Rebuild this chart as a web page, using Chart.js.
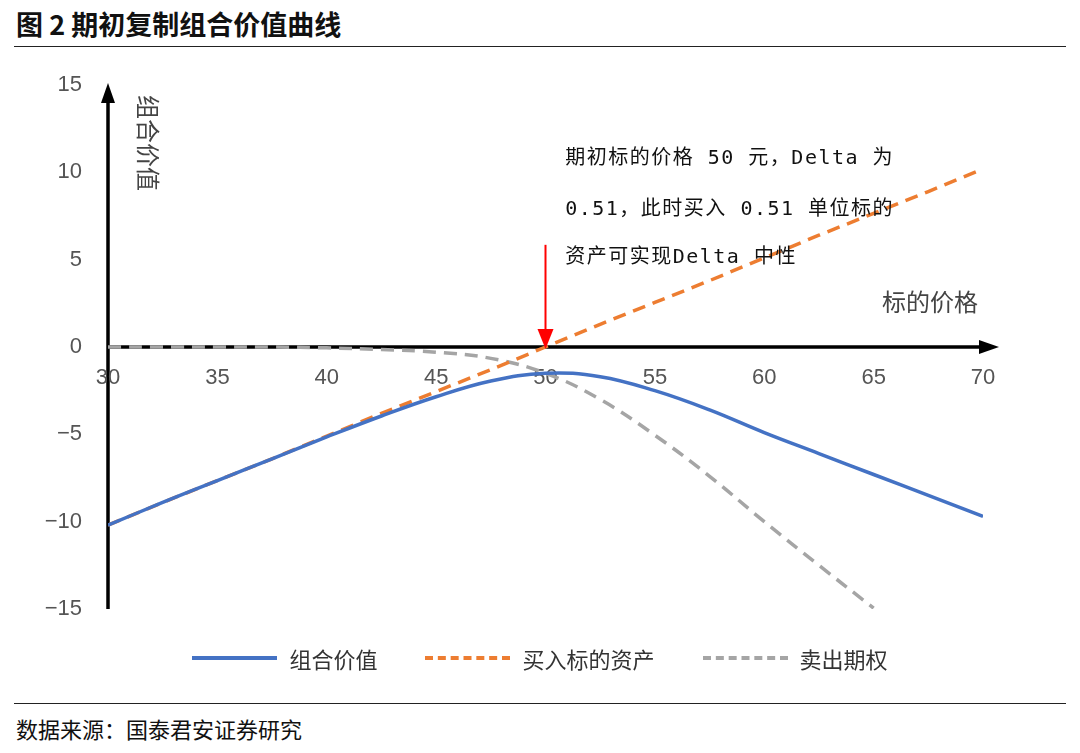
<!DOCTYPE html>
<html>
<head>
<meta charset="utf-8">
<script src="https://cdn.jsdelivr.net/npm/chart.js@4/dist/chart.umd.min.js"></script>
<style>
  body { margin: 0; width: 1080px; height: 753px; background: #fff; font-family: "Noto Sans CJK SC", sans-serif; position: relative; overflow: hidden; }
  #title { position: absolute; left: 16px; top: 4px; font-size: 27px; font-weight: bold; color: #111; }
  #topline { position: absolute; left: 14px; right: 14px; top: 46px; border-top: 1.5px solid #222; }
  #wrap { position: absolute; left: 0; top: 50px; width: 1080px; height: 600px; }
  #legend { position: absolute; top: 642px; left: 0; width: 1080px; display: flex; justify-content: center; gap: 48px; font-size: 22px; color: #333; }
  #legend span { display: flex; align-items: center; gap: 12px; }
  #legend i { display: inline-block; width: 85px; border-top: 4px solid; }
  #botline { position: absolute; left: 14px; right: 14px; top: 703px; border-top: 1.5px solid #222; }
  #source { position: absolute; left: 16px; top: 712px; font-size: 22px; color: #111; }
</style>
</head>
<body>
<div id="title">图 2 期初复制组合价值曲线</div>
<div id="topline"></div>
<div id="wrap"><canvas id="chart"></canvas></div>
<div id="legend">
  <span><i style="border-color:#4472c4"></i>组合价值</span>
  <span><i style="border-color:#ed7d31;border-top-style:dashed"></i>买入标的资产</span>
  <span><i style="border-color:#a5a5a5;border-top-style:dashed"></i>卖出期权</span>
</div>
<div id="botline"></div>
<div id="source">数据来源：国泰君安证券研究</div>
<script>
const prices = [30, 32.5, 35, 37.5, 40, 42.5, 45, 47.5, 50, 52.5, 55, 57.5, 60, 62.5, 65, 67.5, 70];
const portfolio = [-10.2, -8.9, -7.65, -6.4, -5.15, -3.95, -2.85, -1.95, -1.5, -1.7, -2.5, -3.6, -4.9, -6.1, -7.3, -8.5, -9.7];
const underlying = [-10.2, -8.9, -7.65, -6.4, -5.1, -3.8, -2.55, -1.3, 0, 1.3, 2.55, 3.8, 5.1, 6.4, 7.65, 8.9, 10.2];
const shortCall = [0, 0, 0, 0, -0.05, -0.15, -0.3, -0.65, -1.5, -3.0, -5.05, -7.4, -10.0, -12.5, -14.95, null, null];
const xTicks = [30, 35, 40, 45, 50, 55, 60, 65, 70];
const noteLines = ['期初标的价格 50 元，Delta 为', '0.51，此时买入 0.51 单位标的', '资产可实现Delta 中性'];

function pts(ys) { return prices.map((x, i) => ({ x: x, y: ys[i] })); }

const axesPlugin = {
  id: 'axes',
  beforeDatasetsDraw(chart) {
    const { ctx, scales: { x, y } } = chart;
    const x0 = x.getPixelForValue(30), y0 = y.getPixelForValue(0);
    ctx.save();
    ctx.strokeStyle = '#000'; ctx.fillStyle = '#000'; ctx.lineWidth = 3.5;
    ctx.beginPath(); ctx.moveTo(x0, y.getPixelForValue(-15)); ctx.lineTo(x0, y.getPixelForValue(15) + 14); ctx.stroke();
    ctx.beginPath(); ctx.moveTo(x0, y.getPixelForValue(15) - 2); ctx.lineTo(x0 - 7, y.getPixelForValue(15) + 18); ctx.lineTo(x0 + 7, y.getPixelForValue(15) + 18); ctx.fill();
    const xe = x.getPixelForValue(70);
    ctx.beginPath(); ctx.moveTo(x0, y0); ctx.lineTo(xe - 4, y0); ctx.stroke();
    ctx.beginPath(); ctx.moveTo(xe + 16, y0); ctx.lineTo(xe - 4, y0 - 7); ctx.lineTo(xe - 4, y0 + 7); ctx.fill();
    ctx.font = '22px "Liberation Sans", Arial, sans-serif'; ctx.fillStyle = '#555';
    ctx.textAlign = 'center'; ctx.textBaseline = 'top';
    xTicks.forEach(v => ctx.fillText(String(v), x.getPixelForValue(v), y0 + 20));
    ctx.restore();
  },
  afterDatasetsDraw(chart) {
    const { ctx, scales: { x, y } } = chart;
    ctx.save();
    ctx.font = '24px "Noto Sans CJK SC"'; ctx.fillStyle = '#444';
    ctx.textBaseline = 'middle';
    ctx.fillText('标的价格', 882, y.getPixelForValue(2.6));
    ctx.save();
    ctx.translate(148, 45); ctx.rotate(Math.PI / 2);
    ctx.fillText('组合价值', 0, 0);
    ctx.restore();
    ctx.font = '20px "DejaVu Sans Mono", "Noto Sans CJK SC"'; ctx.fillStyle = '#111';
    ctx.textAlign = 'left';
    if ('letterSpacing' in ctx) ctx.letterSpacing = '1.5px';
    const ly = [10.8, 7.85, 5.1];
    noteLines.forEach((t, i) => ctx.fillText(t, x.getPixelForValue(50.9), y.getPixelForValue(ly[i])));
    if ('letterSpacing' in ctx) ctx.letterSpacing = '0px';
    const ax = x.getPixelForValue(50), top = y.getPixelForValue(5.85), bot = y.getPixelForValue(0);
    ctx.strokeStyle = '#ff0000'; ctx.fillStyle = '#ff0000'; ctx.lineWidth = 2;
    ctx.beginPath(); ctx.moveTo(ax, top); ctx.lineTo(ax, bot - 14); ctx.stroke();
    ctx.beginPath(); ctx.moveTo(ax, bot + 2); ctx.lineTo(ax - 8, bot - 18); ctx.lineTo(ax + 8, bot - 18); ctx.fill();
    ctx.restore();
  }
};

new Chart(document.getElementById('chart'), {
  type: 'line',
  data: {
    datasets: [
      { label: '组合价值', data: pts(portfolio), borderColor: '#4472c4', borderWidth: 3.5, pointRadius: 0, tension: 0.4 },
      { label: '买入标的资产', data: pts(underlying), borderColor: '#ed7d31', borderWidth: 3.5, borderDash: [13, 8], pointRadius: 0 },
      { label: '卖出期权', data: pts(shortCall), borderColor: '#a5a5a5', borderWidth: 3.5, borderDash: [13, 8], pointRadius: 0, tension: 0.4 }
    ]
  },
  options: {
    responsive: true, maintainAspectRatio: false, animation: false,
    layout: { padding: { left: 8, right: 97, top: 35, bottom: 41 } },
    plugins: { legend: { display: false }, tooltip: { enabled: false } },
    scales: {
      x: { type: 'linear', min: 30, max: 70, display: false },
      y: {
        min: -15, max: 15,
        ticks: { stepSize: 5, color: '#555', font: { size: 22, family: '"Liberation Sans", Arial' }, padding: 18,
          callback: v => String(v).replace('-', '−') },
        grid: { display: false }, border: { display: false },
        afterFit: s => { s.width = 100; }
      }
    }
  },
  plugins: [axesPlugin]
});
</script>
</body>
</html>
